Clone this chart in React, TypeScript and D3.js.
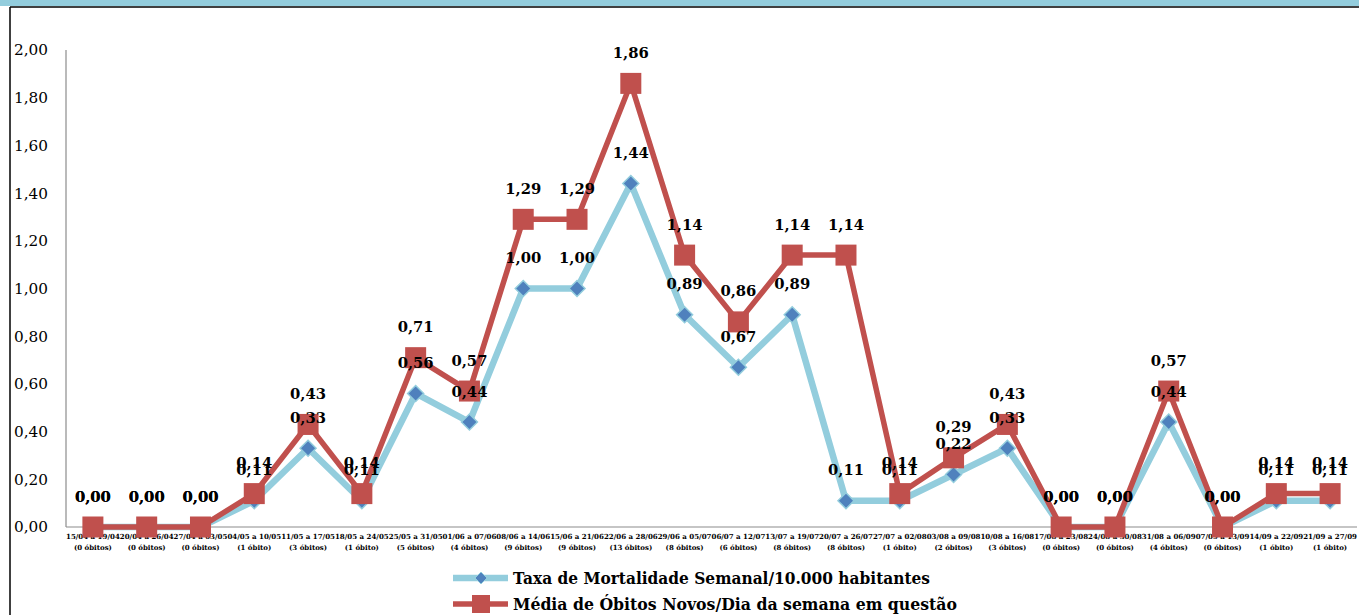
import React from "react";
import * as d3 from "d3";

const categories = [
  "15/04 a 19/04", "20/04 a 26/04", "27/04 a 03/05", "04/05 a 10/05", "11/05 a 17/05",
  "18/05 a 24/05", "25/05 a 31/05", "01/06 a 07/06", "08/06 a 14/06", "15/06 a 21/06",
  "22/06 a 28/06", "29/06 a 05/07", "06/07 a 12/07", "13/07 a 19/07", "20/07 a 26/07",
  "27/07 a 02/08", "03/08 a 09/08", "10/08 a 16/08", "17/08 a 23/08", "24/08 a 30/08",
  "31/08 a 06/09", "07/09 a 13/09", "14/09 a 22/09", "21/09 a 27/09",
];
const deaths = [
  "(0 óbitos)", "(0 óbitos)", "(0 óbitos)", "(1 óbito)", "(3 óbitos)", "(1 óbito)",
  "(5 óbitos)", "(4 óbitos)", "(9 óbitos)", "(9 óbitos)", "(13 óbitos)", "(8 óbitos)",
  "(6 óbitos)", "(8 óbitos)", "(8 óbitos)", "(1 óbito)", "(2 óbitos)", "(3 óbitos)",
  "(0 óbitos)", "(0 óbitos)", "(4 óbitos)", "(0 óbitos)", "(1 óbito)", "(1 óbito)",
];
const taxa = [0, 0, 0, 0.11, 0.33, 0.11, 0.56, 0.44, 1.0, 1.0, 1.44, 0.89, 0.67, 0.89, 0.11, 0.11, 0.22, 0.33, 0, 0, 0.44, 0, 0.11, 0.11];
const media = [0, 0, 0, 0.14, 0.43, 0.14, 0.71, 0.57, 1.29, 1.29, 1.86, 1.14, 0.86, 1.14, 1.14, 0.14, 0.29, 0.43, 0, 0, 0.57, 0, 0.14, 0.14];
const yTicks = [0, 0.2, 0.4, 0.6, 0.8, 1.0, 1.2, 1.4, 1.6, 1.8, 2.0];
const seriesNames = [
  "Taxa de Mortalidade Semanal/10.000 habitantes",
  "Média de Óbitos Novos/Dia da semana em questão",
];

const W = 1359;
const H = 615;
const left = 66;
const right = 1357;
const top = 50;
const bottom = 527;

const fmt = (v: number) => v.toFixed(2).replace(".", ",");
const SERIF = "'DejaVu Serif', serif";

export default function App() {
  const x = d3.scaleBand<string>().domain(categories).range([left, right]);
  const y = d3.scaleLinear().domain([0, 2]).range([bottom, top]);
  const cx = (i: number) => (x(categories[i]) as number) + x.bandwidth() / 2;
  const line = d3
    .line<number>()
    .x((_, i) => cx(i))
    .y((d) => y(d));

  const taxaColor = "#93CDDD";
  const diamondColor = "#4F81BD";
  const mediaColor = "#C0504D";

  const diamond = (px: number, py: number, r: number) =>
    `M${px},${py - r}L${px + r},${py}L${px},${py + r}L${px - r},${py}Z`;

  return (
    <svg
      width={W}
      height={H}
      style={{ position: "absolute", left: 0, top: 0, background: "#fff" }}
    >
      {/* frame */}
      <rect x={0} y={0} width={W} height={6} fill={taxaColor} />
      <line x1={10} y1={7} x2={W} y2={7} stroke="#000" strokeWidth={1.5} />
      <line x1={10} y1={7} x2={10} y2={H} stroke="#000" strokeWidth={1.5} />

      {/* axes */}
      <line x1={left} y1={top} x2={left} y2={bottom} stroke="#8c8c8c" strokeWidth={1.2} />
      <line x1={left} y1={bottom} x2={right} y2={bottom} stroke="#8c8c8c" strokeWidth={1.2} />

      {yTicks.map((t) => (
        <text
          key={t}
          x={14}
          y={y(t)}
          dy="0.35em"
          fontFamily={SERIF}
          fontSize={15.5}
          textLength={34}
          lengthAdjust="spacingAndGlyphs"
          fill="#000"
        >
          {fmt(t)}
        </text>
      ))}

      {categories.map((c, i) => (
        <g key={c}>
          <text
            x={cx(i)}
            y={539}
            textAnchor="middle"
            fontFamily={SERIF}
            fontWeight="bold"
            fontSize={7}
            textLength={x.bandwidth()}
            lengthAdjust="spacingAndGlyphs"
          >
            {c}
          </text>
          <text
            x={cx(i)}
            y={550}
            textAnchor="middle"
            fontFamily={SERIF}
            fontWeight="bold"
            fontSize={7}
          >
            {deaths[i]}
          </text>
        </g>
      ))}

      {/* series 1 */}
      <path d={line(taxa) || ""} fill="none" stroke={taxaColor} strokeWidth={6.5} strokeLinejoin="round" />
      {taxa.map((v, i) => (
        <path key={"d" + i} d={diamond(cx(i), y(v), 8)} fill={diamondColor} stroke={taxaColor} strokeWidth={1.5} />
      ))}

      {/* series 2 */}
      <path d={line(media) || ""} fill="none" stroke={mediaColor} strokeWidth={5.5} strokeLinejoin="round" />
      {media.map((v, i) => (
        <rect key={"s" + i} x={cx(i) - 10.5} y={y(v) - 10.5} width={21} height={21} fill={mediaColor} />
      ))}

      {/* labels */}
      {taxa.map((v, i) => (
        <text
          key={"lt" + i}
          x={cx(i)}
          y={y(v) - 31}
          dy="0.36em"
          textAnchor="middle"
          fontFamily={SERIF}
          fontWeight="bold"
          fontSize={15.5}
          textLength={36}
          lengthAdjust="spacingAndGlyphs"
        >
          {fmt(v)}
        </text>
      ))}
      {media.map((v, i) => (
        <text
          key={"lm" + i}
          x={cx(i)}
          y={y(v) - 31}
          dy="0.36em"
          textAnchor="middle"
          fontFamily={SERIF}
          fontWeight="bold"
          fontSize={15.5}
          textLength={36}
          lengthAdjust="spacingAndGlyphs"
        >
          {fmt(v)}
        </text>
      ))}

      {/* legend */}
      <line x1={453} y1={578} x2={508} y2={578} stroke={taxaColor} strokeWidth={6.5} />
      <path d={diamond(481, 578, 6)} fill={diamondColor} stroke={taxaColor} strokeWidth={1} />
      <text x={513} y={578} dy="0.36em" fontFamily={SERIF} fontWeight="bold" fontSize={16.5} textLength={417} lengthAdjust="spacingAndGlyphs">
        {seriesNames[0]}
      </text>
      <line x1={453} y1={604} x2={508} y2={604} stroke={mediaColor} strokeWidth={5.5} />
      <rect x={481 - 9} y={604 - 9} width={18} height={18} fill={mediaColor} />
      <text x={513} y={604} dy="0.36em" fontFamily={SERIF} fontWeight="bold" fontSize={16.5} textLength={444} lengthAdjust="spacingAndGlyphs">
        {seriesNames[1]}
      </text>
    </svg>
  );
}
